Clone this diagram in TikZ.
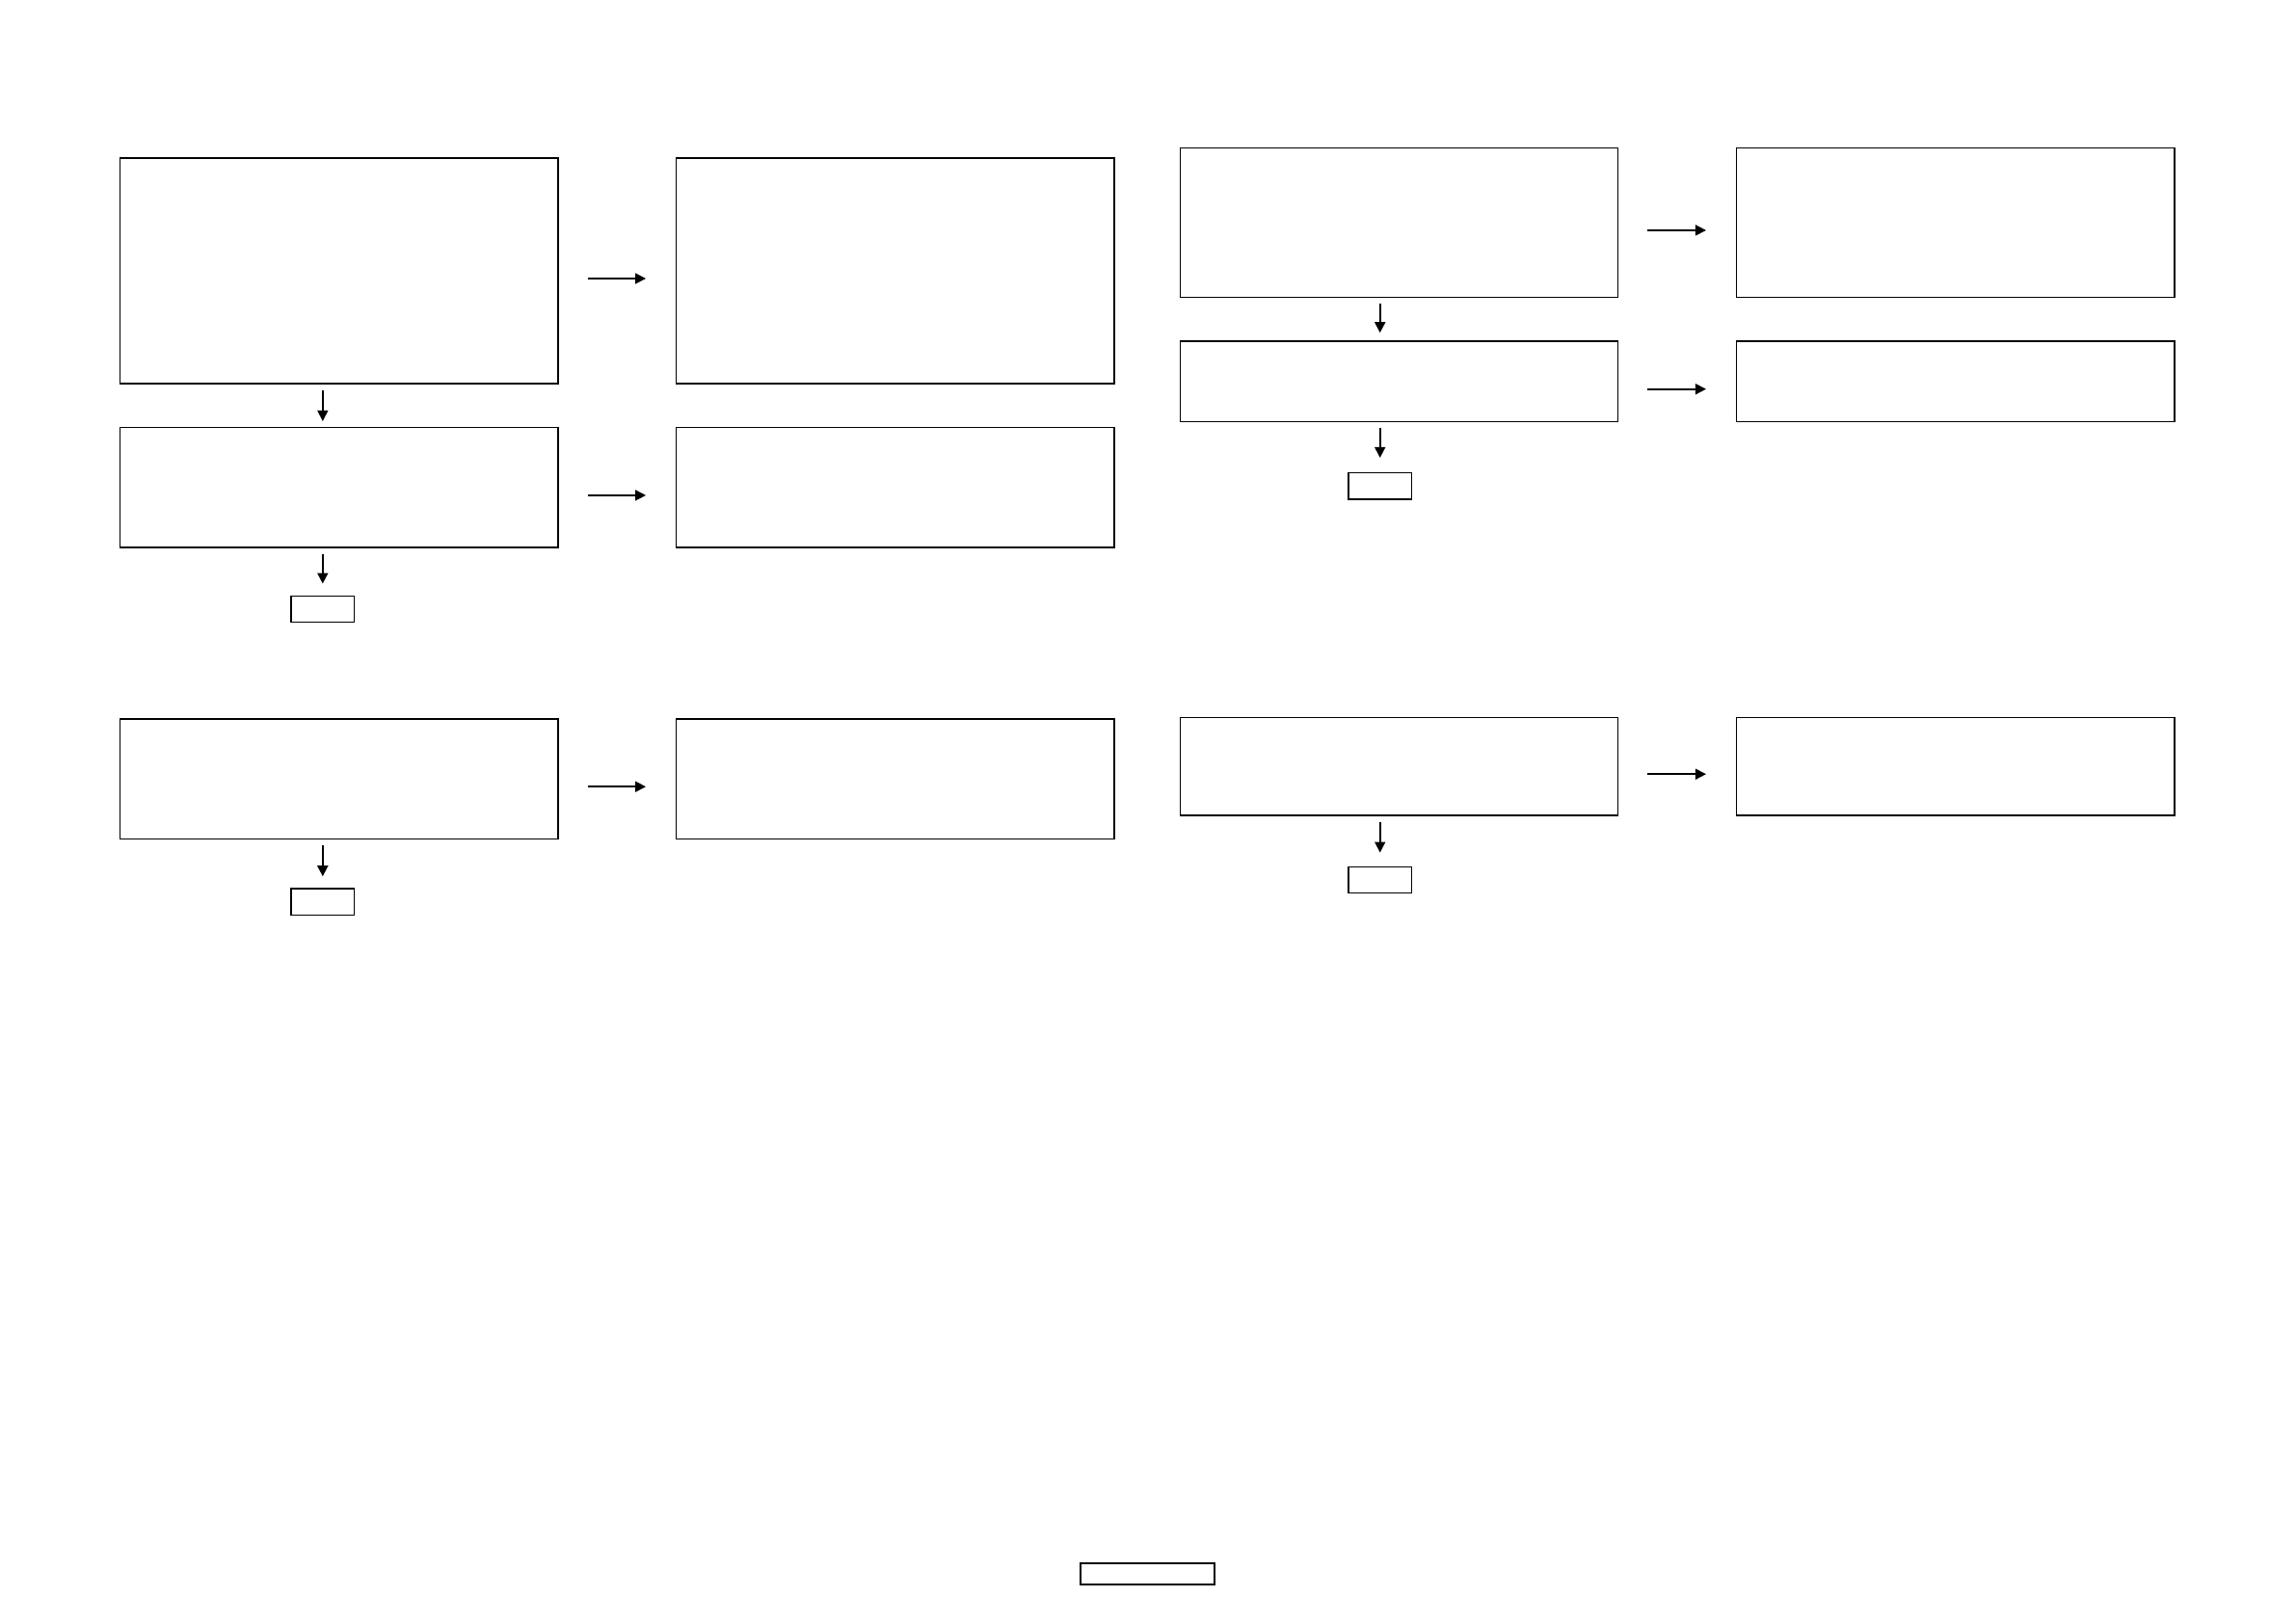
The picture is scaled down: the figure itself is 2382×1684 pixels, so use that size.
\documentclass[tikz,border=0pt]{standalone}
\usepackage{tikz}
\usetikzlibrary{arrows.meta,positioning}

\begin{document}
\begin{tikzpicture}[
    x=0.01cm, y=-0.01cm,
    box/.style={rectangle, draw, line width=0.4pt, inner sep=0pt,
                minimum width=4.54cm},
    endbox/.style={rectangle, draw, line width=0.4pt, inner sep=0pt,
                   minimum width=0.656cm, minimum height=0.275cm},
    flow/.style={-{Triangle[length=1.1mm, width=1.1mm]}, line width=0.45pt},
]
\useasboundingbox (0,0) rectangle (2382,1684);

% Left half: source boxes
\node[box, minimum height=2.34cm]  (a1) at (351.7, 281)   {};
\node[box, minimum height=1.245cm] (a2) at (351.7, 505.9) {};
\node[box, minimum height=1.244cm] (a3) at (351.7, 808.2) {};
% Left half: target boxes
\node[box, minimum height=2.34cm]  (ta1) at (928.9, 281)   {};
\node[box, minimum height=1.245cm] (ta2) at (928.9, 505.9) {};
\node[box, minimum height=1.244cm] (ta3) at (928.9, 808.2) {};
% Left half: end boxes
\node[endbox] (ea2) at (334.8, 632)   {};
\node[endbox] (ea3) at (334.8, 935.7) {};

% Right half: source boxes
\node[box, minimum height=1.55cm]  (b1) at (1451.5, 230.9) {};
\node[box, minimum height=0.835cm] (b2) at (1451.5, 395.7) {};
\node[box, minimum height=1.017cm] (b3) at (1451.5, 795.2) {};
% Right half: target boxes
\node[box, minimum height=1.55cm]  (tb1) at (2028.8, 230.9) {};
\node[box, minimum height=0.835cm] (tb2) at (2028.8, 395.7) {};
\node[box, minimum height=1.017cm] (tb3) at (2028.8, 795.2) {};
% Right half: end boxes
\node[endbox] (eb2) at (1431.7, 504.4) {};
\node[endbox] (eb3) at (1431.7, 913)   {};

% Page footer box
\node[rectangle, draw, line width=0.4pt, inner sep=0pt,
      minimum width=1.39cm, minimum height=0.22cm] (foot) at (1190.5, 1633) {};

% Horizontal arrows (source -> target)
\foreach \s/\t in {a1/ta1, a2/ta2, a3/ta3, b1/tb1, b2/tb2, b3/tb3}
  \draw[flow, shorten <=0.3cm, shorten >=0.31cm]
    ([yshift=-0.08cm]\s.east) -- ([yshift=-0.08cm]\t.west);

% Vertical arrows
\draw[flow, shorten <=0.06cm, shorten >=0.06cm] (a1.south -| ea2.north) -- (a2.north -| ea2.north);
\draw[flow, shorten <=0.06cm, shorten >=0.12cm] (a2.south -| ea2.north) -- (ea2.north);
\draw[flow, shorten <=0.06cm, shorten >=0.12cm] (a3.south -| ea3.north) -- (ea3.north);
\begin{scope}[xshift=0.025cm]
\draw[flow, shorten <=0.06cm, shorten >=0.08cm] (b1.south -| eb2.north) -- (b2.north -| eb2.north);
\draw[flow, shorten <=0.06cm, shorten >=0.15cm] (b2.south -| eb2.north) -- (eb2.north);
\draw[flow, shorten <=0.06cm, shorten >=0.14cm] (b3.south -| eb3.north) -- (eb3.north);
\end{scope}
\end{tikzpicture}
\end{document}
